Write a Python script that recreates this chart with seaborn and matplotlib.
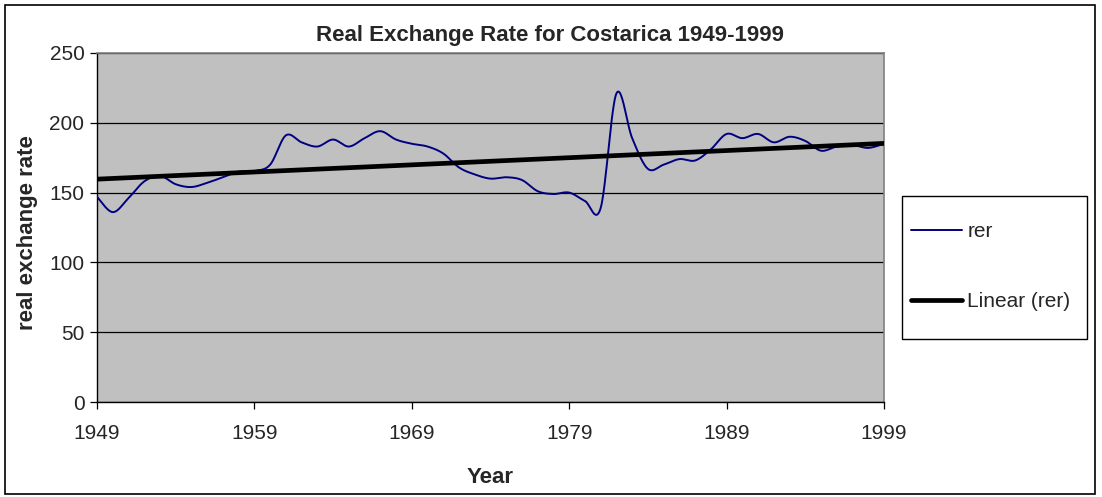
import numpy as np
import pandas as pd
import matplotlib
matplotlib.use("Agg")
import matplotlib.pyplot as plt
from matplotlib.lines import Line2D
from matplotlib.patches import Rectangle
import seaborn as sns

# Annual real exchange rate for Costa Rica
years = list(range(1949, 2000))
rer = [147, 136, 146, 158, 162, 156, 154, 157, 161, 165,
       165.5, 170, 191, 186, 183, 188, 183, 189, 194, 188,
       185, 183, 178, 168, 163, 160, 161, 159, 151, 149,
       150, 144, 139, 221, 189, 167, 170, 174, 173, 181,
       192, 189, 192, 186, 190, 187, 180, 183, 184, 182, 185]
xtick_years = [1949, 1959, 1969, 1979, 1989, 1999]
ytick_values = [0, 50, 100, 150, 200, 250]

title = "Real Exchange Rate for Costarica 1949-1999"
series_label = "rer"
trend_label = "Linear (rer)"


def smooth_curve(x, y, steps=24):
    """Cubic Bezier smoothing through every point (Catmull-Rom style)."""
    x = np.asarray(x, float)
    y = np.asarray(y, float)
    n = len(x)
    xs, ys = [], []
    t = np.linspace(0, 1, steps, endpoint=False)
    for i in range(n - 1):
        p0 = np.array([x[i], y[i]])
        p3 = np.array([x[i + 1], y[i + 1]])
        prev = np.array([x[max(i - 1, 0)], y[max(i - 1, 0)]])
        nxt = np.array([x[min(i + 2, n - 1)], y[min(i + 2, n - 1)]])
        c1 = p0 + (p3 - prev) / 6.0
        c2 = p3 - (nxt - p0) / 6.0
        b = ((1 - t) ** 3)[:, None] * p0 + (3 * (1 - t) ** 2 * t)[:, None] * c1 \
            + (3 * (1 - t) * t ** 2)[:, None] * c2 + (t ** 3)[:, None] * p3
        xs.extend(b[:, 0])
        ys.extend(b[:, 1])
    xs.append(x[-1])
    ys.append(y[-1])
    return np.array(xs), np.array(ys)


sns.set_style("white")
plt.rcParams["font.family"] = ["Liberation Sans", "DejaVu Sans"]

W, H = 1102, 497
fig = plt.figure(figsize=(W / 100, H / 100), dpi=100)
left, right, top, bottom = 97, 884, 53, 402
ax = fig.add_axes([left / W, 1 - bottom / H, (right - left) / W, (bottom - top) / H])
ax.set_facecolor("#C0C0C0")

sx, sy = smooth_curve(years, rer)
curve = pd.DataFrame({"Year": sx, "rer": sy})
sns.lineplot(data=curve, x="Year", y="rer", ax=ax, color="#000080",
             linewidth=1.4, estimator=None, sort=False, zorder=3)

df = pd.DataFrame({"Year": years, "rer": rer})
sns.regplot(data=df, x="Year", y="rer", ax=ax, scatter=False, ci=None,
            truncate=True, line_kws=dict(color="black", linewidth=3.4, zorder=4))

ax.set_xlim(1949, 1999)
ax.set_ylim(0, 250)
ax.set_xticks(xtick_years)
ax.set_yticks(ytick_values)
ax.set_xticklabels([str(v) for v in xtick_years])
ax.yaxis.grid(True, color="black", linewidth=0.9)
ax.set_axisbelow(True)
ax.tick_params(axis="both", labelsize=15, length=5, width=0.9, color="black",
               direction="out", bottom=True, left=True)
ax.tick_params(axis="x", pad=11)
ax.tick_params(axis="y", pad=4)

for side in ["top", "right"]:
    ax.spines[side].set_color("#808080")
    ax.spines[side].set_linewidth(1.2)
for side in ["left", "bottom"]:
    ax.spines[side].set_color("black")
    ax.spines[side].set_linewidth(1.0)

ax.set_xlabel("Year", fontsize=16, fontweight="bold", labelpad=17)
ax.set_ylabel("real exchange rate", fontsize=16, fontweight="bold")
ax.yaxis.set_label_coords(-0.0755, 0.485)
fig.text(550 / W, 1 - 35 / H, title, fontsize=16,
         fontweight="bold", ha="center", va="center")

# legend box
fig.patches.append(Rectangle((902 / W, 1 - 339 / H), (1087 - 902) / W, (339 - 196) / H,
                             transform=fig.transFigure, facecolor="white",
                             edgecolor="black", linewidth=1.0, zorder=1))
handles = [Line2D([], [], color="#000080", linewidth=1.4),
           Line2D([], [], color="black", linewidth=3.4)]
leg = fig.legend(handles, [series_label, trend_label], loc="upper left",
                 bbox_to_anchor=(911 / W, 1 - 222 / H), fontsize=15,
                 frameon=False, labelspacing=2.45, handlelength=2.45,
                 handletextpad=0.25, borderpad=0, borderaxespad=0)
leg.set_zorder(2)

# outer chart border
fig.patches.append(Rectangle((5 / W, 3 / H), (1095 - 5) / W, (494 - 5) / H,
                             transform=fig.transFigure, fill=False,
                             edgecolor="black", linewidth=1.2))

fig.savefig("out.png", dpi=100)
